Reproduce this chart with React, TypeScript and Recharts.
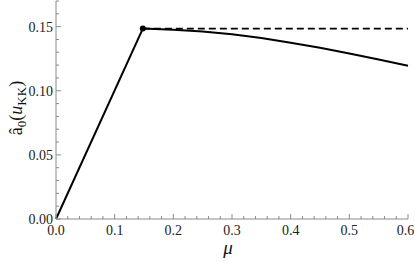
import React from 'react';
import {
  ComposedChart,
  Line,
  XAxis,
  YAxis,
  ReferenceDot,
} from 'recharts';

// branch that rises linearly up to the critical point
const risingBranch = [
  { mu: 0, a: 0 },
  { mu: 0.148, a: 0.1485 },
];

// bent branch after the critical point
const fallingBranch = [
  { mu: 0.148, a: 0.1485 },
  { mu: 0.2, a: 0.1476 },
  { mu: 0.25, a: 0.1462 },
  { mu: 0.3, a: 0.144 },
  { mu: 0.35, a: 0.1412 },
  { mu: 0.4, a: 0.1375 },
  { mu: 0.45, a: 0.1335 },
  { mu: 0.5, a: 0.129 },
  { mu: 0.55, a: 0.1243 },
  { mu: 0.6, a: 0.1195 },
];

// flat (dashed) continuation
const flatBranch = [
  { mu: 0.148, a: 0.1485 },
  { mu: 0.6, a: 0.1485 },
];

const criticalPoint = { mu: 0.148, a: 0.1485 };

const xTicks = [
  0, 0.02, 0.04, 0.06, 0.08, 0.1, 0.12, 0.14, 0.16, 0.18, 0.2, 0.22, 0.24, 0.26,
  0.28, 0.3, 0.32, 0.34, 0.36, 0.38, 0.4, 0.42, 0.44, 0.46, 0.48, 0.5, 0.52,
  0.54, 0.56, 0.58, 0.6,
];
const xLabels = ['0.0', '0.1', '0.2', '0.3', '0.4', '0.5', '0.6'];

const yTicks = [
  0, 0.01, 0.02, 0.03, 0.04, 0.05, 0.06, 0.07, 0.08, 0.09, 0.1, 0.11, 0.12,
  0.13, 0.14, 0.15, 0.16, 0.17,
];
const yLabels = ['0.00', '0.05', '0.10', '0.15'];

const FONT = "'Liberation Serif'";
const FRAME = '#8a8a8a';

const XTick = (props: any) => {
  const { x, y, payload } = props;
  const hundredths = Math.round(payload.value * 100);
  const major = hundredths % 10 === 0;
  const idx = hundredths / 10;
  // last label would run past the right edge, nudge it in a little
  const lx = idx === xLabels.length - 1 ? x - 2.5 : x;
  return (
    <g>
      <line x1={x} x2={x} y1={y} y2={y - (major ? 5 : 3)} stroke={FRAME} />
      {major && (
        <text x={lx} y={y + 16} textAnchor="middle" style={{ fontFamily: FONT, fontSize: 14 }} fill="#222">
          {xLabels[idx]}
        </text>
      )}
    </g>
  );
};

const YTick = (props: any) => {
  const { x, y, payload } = props;
  const hundredths = Math.round(payload.value * 100);
  const major = hundredths % 5 === 0;
  return (
    <g>
      <line x1={x} x2={x + (major ? 5 : 3)} y1={y} y2={y} stroke={FRAME} />
      {major && (
        <text x={x - 3} y={y + 5} textAnchor="end" style={{ fontFamily: FONT, fontSize: 14 }} fill="#222">
          {yLabels[hundredths / 5]}
        </text>
      )}
    </g>
  );
};

const YTitle = () => (
  <text
    x={22}
    y={108}
    transform="rotate(-90, 22, 108)"
    textAnchor="middle"
    style={{ fontFamily: FONT, fontSize: 18 }}
    fill="#111"
  >
    <tspan>â</tspan>
    <tspan style={{ fontSize: 13 }} dy={4}>0</tspan>
    <tspan dy={-4}>(</tspan>
    <tspan fontStyle="italic">u</tspan>
    <tspan style={{ fontSize: 13 }} dy={4}>KK</tspan>
    <tspan dy={-4}>)</tspan>
  </text>
);

const XTitle = () => (
  <text x={228} y={254} textAnchor="middle" style={{ fontFamily: FONT, fontSize: 19, fontStyle: 'italic' }} fill="#111">
    μ
  </text>
);

export default function App() {
  return (
    <div style={{ position: 'absolute', left: 0, top: 0, width: 415, height: 262, background: '#fff' }}>
      <ComposedChart width={415} height={262} margin={{ top: 1, right: 7, left: 0, bottom: 0 }}>
        <XAxis
          dataKey="mu"
          type="number"
          domain={[0, 0.6]}
          ticks={xTicks}
          interval={0}
          tick={<XTick />}
          tickLine={false}
          tickSize={0}
          tickMargin={0}
          height={43}
          stroke={FRAME}
          allowDuplicatedCategory={false}
          label={{ content: () => <XTitle /> }}
        />
        <XAxis
          xAxisId="top"
          orientation="top"
          type="number"
          domain={[0, 0.6]}
          tick={false}
          tickLine={false}
          height={0}
          stroke={FRAME}
        />
        <YAxis
          type="number"
          domain={[0, 0.17]}
          ticks={yTicks}
          interval={0}
          tick={<YTick />}
          tickLine={false}
          tickSize={0}
          tickMargin={0}
          width={56}
          stroke={FRAME}
          label={{ content: () => <YTitle /> }}
        />
        <YAxis
          yAxisId="right"
          orientation="right"
          type="number"
          domain={[0, 0.17]}
          tick={false}
          tickLine={false}
          width={0}
          stroke={FRAME}
        />
        <Line
          data={flatBranch}
          dataKey="a"
          type="linear"
          stroke="#000"
          strokeWidth={1.8}
          strokeDasharray="7 4"
          dot={false}
          isAnimationActive={false}
        />
        <Line
          data={risingBranch}
          dataKey="a"
          type="linear"
          stroke="#000"
          strokeWidth={2}
          dot={false}
          isAnimationActive={false}
        />
        <Line
          data={fallingBranch}
          dataKey="a"
          type="linear"
          stroke="#000"
          strokeWidth={2}
          dot={false}
          isAnimationActive={false}
        />
        <ReferenceDot x={criticalPoint.mu} y={criticalPoint.a} r={3} fill="#000" stroke="none" />
      </ComposedChart>
    </div>
  );
}
